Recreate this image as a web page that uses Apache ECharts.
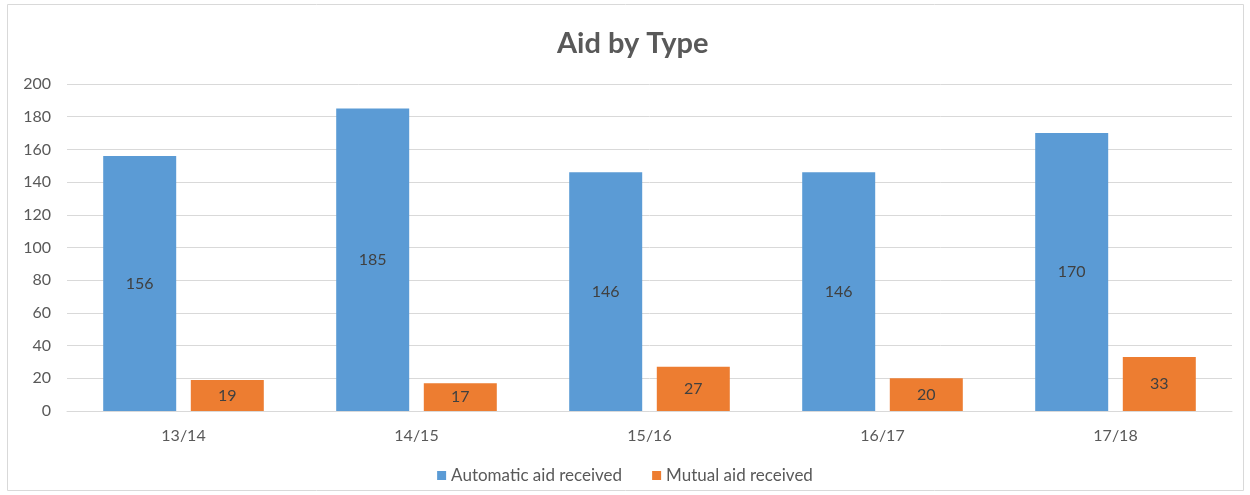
<!DOCTYPE html>
<html>
<head>
<meta charset="utf-8">
<title>Aid by Type</title>
<script src="https://cdn.jsdelivr.net/npm/echarts@6/dist/echarts.min.js"></script>
<style>
  html, body { margin: 0; padding: 0; background: #fff; }
  #chart { width: 1250px; height: 495px; }
</style>
</head>
<body>
<div id="chart"></div>
<script>
// data
var categories = ["13/14", "14/15", "15/16", "16/17", "17/18"];
var automaticAid = [156, 185, 146, 146, 170];
var mutualAid = [19, 17, 27, 20, 33];
var seriesNames = ["Automatic aid received", "Mutual aid received"];

var chart = echarts.init(document.getElementById("chart"));

var labelStyle = {
  show: true,
  color: "#404040",
  fontFamily: "Lato",
  fontSize: 16
};

var option = {
  animation: false,
  textStyle: { fontFamily: "Lato" },
  title: {
    text: "Aid by Type",
    left: 552,
    top: 24,
    textStyle: {
      color: "#595959",
      fontSize: 29,
      fontWeight: "bold",
      fontFamily: "Lato"
    }
  },
  // outer chart frame
  graphic: [{
    type: "rect",
    shape: { x: 7.5, y: 4.5, width: 1236, height: 486 },
    style: { fill: null, stroke: "#d9d9d9", lineWidth: 1 },
    silent: true
  }],
  legend: {
    bottom: 6,
    left: "center",
    itemWidth: 9,
    itemHeight: 9,
    itemGap: 30,
    icon: "rect",
    textStyle: { color: "#595959", fontSize: 17, fontFamily: "Lato" },
    data: seriesNames
  },
  grid: {
    left: 67,
    right: 18,
    top: 84,
    bottom: 84
  },
  xAxis: {
    type: "category",
    data: categories,
    axisLine: { lineStyle: { color: "#d9d9d9" } },
    axisTick: { show: false },
    axisLabel: { color: "#595959", fontSize: 16, margin: 17 }
  },
  yAxis: {
    type: "value",
    min: 0,
    max: 200,
    interval: 20,
    axisLine: { show: false },
    axisTick: { show: false },
    axisLabel: { color: "#595959", fontSize: 16, margin: 16 },
    splitLine: { lineStyle: { color: "#d9d9d9" } }
  },
  series: [
    {
      name: seriesNames[0],
      type: "bar",
      data: automaticAid,
      barWidth: 73,
      barGap: "20%",
      itemStyle: { color: "#5b9bd5" },
      label: Object.assign({ position: "inside" }, labelStyle)
    },
    {
      name: seriesNames[1],
      type: "bar",
      data: mutualAid,
      barWidth: 73,
      itemStyle: { color: "#ed7d31" },
      label: Object.assign({ position: "inside" }, labelStyle)
    }
  ]
};

chart.setOption(option);
</script>
</body>
</html>
